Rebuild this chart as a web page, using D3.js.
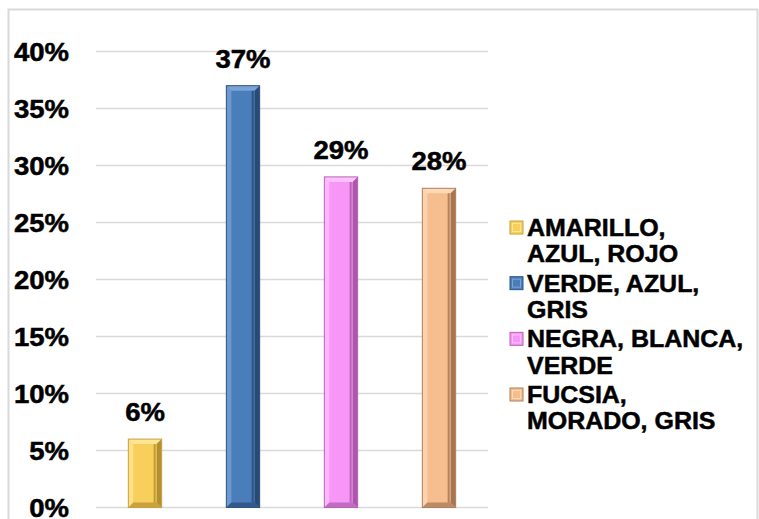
<!DOCTYPE html>
<html>
<head>
<meta charset="utf-8">
<script src="https://cdn.jsdelivr.net/npm/d3@7"></script>
<style>
  body { margin: 0; background: #fff; }
  svg text { font-family: "Liberation Sans", Arial, sans-serif; font-weight: bold; fill: #000; stroke: #000; stroke-width: 0.5px; }
</style>
</head>
<body>
<script>
const categories = ["AMARILLO, AZUL, ROJO", "VERDE, AZUL, GRIS", "NEGRA, BLANCA, VERDE", "FUCSIA, MORADO, GRIS"];
const legendLines = [["AMARILLO,", "AZUL, ROJO"], ["VERDE, AZUL,", "GRIS"], ["NEGRA, BLANCA,", "VERDE"], ["FUCSIA,", "MORADO, GRIS"]];
const values = [0.06, 0.37, 0.29, 0.28];
const yTicks = [0, 0.05, 0.10, 0.15, 0.20, 0.25, 0.30, 0.35, 0.40];

// face / light / dark per bar
const palette = [
  { face: "#F9CF5B", light: "#FFE694", dark: "#A8842C", line: "#C9A040" },
  { face: "#4A7EBB", light: "#7AA3D6", dark: "#24416A", line: "#2F5584" },
  { face: "#F796F7", light: "#FFC2FF", dark: "#9E4E9E", line: "#B664B6" },
  { face: "#F6BE8E", light: "#FFDAB8", dark: "#96684A", line: "#B0805E" }
];

const W = 759, H = 519;
const svg = d3.select("body").append("svg").attr("width", W).attr("height", H);

// chart frame
svg.append("rect")
  .attr("x", 8.5).attr("y", 9.5).attr("width", 749).attr("height", 530)
  .attr("fill", "none").attr("stroke", "#D9D9D9").attr("stroke-width", 2);

const plot = { left: 96, right: 488, top: 51.5, bottom: 507.5 };

const x = d3.scaleBand().domain(categories)
  .range([plot.left, plot.right]).paddingInner(0.66).paddingOuter(0.33);
const y = d3.scaleLinear().domain([0, 0.40]).range([plot.bottom, plot.top]);

// gridlines
svg.append("g").selectAll("line").data(yTicks).enter().append("line")
  .attr("x1", plot.left).attr("x2", plot.right)
  .attr("y1", d => y(d)).attr("y2", d => y(d))
  .attr("stroke", "#D9D9D9").attr("stroke-width", 1.5);

// y labels
svg.append("g").selectAll("text").data(yTicks).enter().append("text")
  .attr("x", 69).attr("y", d => y(d) + 10)
  .attr("text-anchor", "end").attr("font-size", 25)
  .attr("transform", `translate(69,0) scale(1.1,1) translate(-69,0)`)
  .text(d3.format(".0%"));

// bevelled bars
const bev = 5;
const bars = svg.append("g").selectAll("g").data(values).enter().append("g");
bars.each(function (v, i) {
  const g = d3.select(this);
  const c = palette[i];
  const x0 = x(categories[i]), w = x.bandwidth();
  const y0 = y(v), y1 = y(0);
  const x1 = x0 + w;
  g.append("rect").attr("x", x0).attr("y", y0).attr("width", w).attr("height", y1 - y0)
    .attr("fill", c.face);
  const pts = a => a.map(p => p.join(",")).join(" ");
  // top
  g.append("polygon").attr("points", pts([[x0, y0], [x1, y0], [x1 - bev, y0 + bev], [x0 + bev, y0 + bev]]))
    .attr("fill", c.light);
  // left
  g.append("polygon").attr("points", pts([[x0, y0], [x0 + bev, y0 + bev], [x0 + bev, y1 - bev], [x0, y1]]))
    .attr("fill", c.light).attr("opacity", 0.75);
  // right
  g.append("polygon").attr("points", pts([[x1, y0], [x1, y1], [x1 - bev, y1 - bev], [x1 - bev, y0 + bev]]))
    .attr("fill", c.dark).attr("opacity", 0.85);
  // bottom
  g.append("polygon").attr("points", pts([[x0, y1], [x1, y1], [x1 - bev, y1 - bev], [x0 + bev, y1 - bev]]))
    .attr("fill", c.dark).attr("opacity", 0.6);
  // inner dark line near right edge
  g.append("line").attr("x1", x1 - bev - 2).attr("x2", x1 - bev - 2)
    .attr("y1", y0 + bev).attr("y2", y1 - bev)
    .attr("stroke", c.dark).attr("stroke-width", 2).attr("opacity", 0.7);
  g.append("rect").attr("x", x0).attr("y", y0).attr("width", w).attr("height", y1 - y0)
    .attr("fill", "none").attr("stroke", c.line).attr("stroke-width", 1);
});

// data labels
svg.append("g").selectAll("text").data(values).enter().append("text")
  .attr("x", (d, i) => x(categories[i]) + x.bandwidth() / 2)
  .attr("y", d => y(d) - 18)
  .attr("text-anchor", "middle").attr("font-size", 25)
  .attr("transform", (d, i) => {
    const cx = x(categories[i]) + x.bandwidth() / 2;
    return `translate(${cx},0) scale(1.1,1) translate(${-cx},0)`;
  })
  .text(d3.format(".0%"));

// legend
const legY = d3.scaleLinear().domain([0, 3]).range([236, 403]);
const leg = svg.append("g").selectAll("g").data(legendLines).enter().append("g");
leg.append("rect")
  .attr("x", 510).attr("y", (d, i) => legY(i) - 15)
  .attr("width", 13).attr("height", 13)
  .attr("fill", (d, i) => palette[i].face)
  .attr("stroke", (d, i) => palette[i].line).attr("stroke-width", 1);
leg.append("rect")
  .attr("x", 512.5).attr("y", (d, i) => legY(i) - 12.5)
  .attr("width", 8).attr("height", 8)
  .attr("fill", "none")
  .attr("stroke", (d, i) => palette[i].light).attr("stroke-width", 1);
leg.append("text")
  .attr("x", 527).attr("y", (d, i) => legY(i))
  .attr("font-size", 24)
  .attr("transform", "translate(527,0) scale(1.04,1) translate(-527,0)")
  .selectAll("tspan").data(d => d).enter().append("tspan")
  .attr("x", 527).attr("dy", (d, j) => j === 0 ? 0 : 26.5)
  .text(d => d);
</script>
</body>
</html>
